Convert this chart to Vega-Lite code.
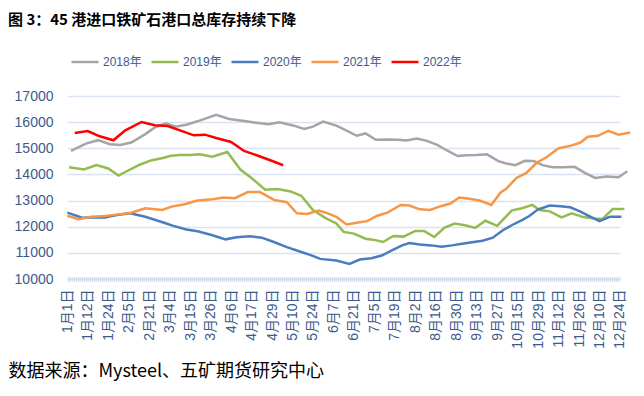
{
  "$schema": "https://vega.github.io/schema/vega-lite/v6.json",
  "autosize": {"type": "none"},
  "width": 569,
  "height": 183,
  "padding": {"left": 63, "top": 96, "right": 12, "bottom": 117},
  "background": "white",
  "config": {"view": {"stroke": null}},
  "title": {
    "text": "图 3：45 港进口铁矿石港口总库存持续下降",
    "anchor": "start",
    "frame": "group",
    "font": "Noto Sans CJK SC",
    "fontSize": 15,
    "fontWeight": "bold",
    "color": "#000000",
    "dx": -55,
    "dy": 4,
    "offset": 23
  },
  "data": {
    "values": [
      {"year": "2018年", "day": 3, "value": 14897},
      {"year": "2018年", "day": 11, "value": 15181},
      {"year": "2018年", "day": 18, "value": 15310},
      {"year": "2018年", "day": 25, "value": 15155},
      {"year": "2018年", "day": 31, "value": 15129},
      {"year": "2018年", "day": 38, "value": 15220},
      {"year": "2018年", "day": 49, "value": 15542},
      {"year": "2018年", "day": 55, "value": 15800},
      {"year": "2018年", "day": 61, "value": 15955},
      {"year": "2018年", "day": 66, "value": 15826},
      {"year": "2018年", "day": 72, "value": 15903},
      {"year": "2018年", "day": 79, "value": 16058},
      {"year": "2018年", "day": 88, "value": 16278},
      {"year": "2018年", "day": 95, "value": 16123},
      {"year": "2018年", "day": 104, "value": 16032},
      {"year": "2018年", "day": 112, "value": 15955},
      {"year": "2018年", "day": 117, "value": 15916},
      {"year": "2018年", "day": 123, "value": 15994},
      {"year": "2018年", "day": 131, "value": 15865},
      {"year": "2018年", "day": 138, "value": 15736},
      {"year": "2018年", "day": 144, "value": 15826},
      {"year": "2018年", "day": 151, "value": 16020},
      {"year": "2018年", "day": 160, "value": 15865},
      {"year": "2018年", "day": 167, "value": 15671},
      {"year": "2018年", "day": 174, "value": 15478},
      {"year": "2018年", "day": 180, "value": 15568},
      {"year": "2018年", "day": 187, "value": 15323},
      {"year": "2018年", "day": 194, "value": 15336},
      {"year": "2018年", "day": 202, "value": 15323},
      {"year": "2018年", "day": 208, "value": 15297},
      {"year": "2018年", "day": 215, "value": 15374},
      {"year": "2018年", "day": 222, "value": 15284},
      {"year": "2018年", "day": 229, "value": 15129},
      {"year": "2018年", "day": 235, "value": 14936},
      {"year": "2018年", "day": 243, "value": 14704},
      {"year": "2018年", "day": 249, "value": 14730},
      {"year": "2018年", "day": 256, "value": 14742},
      {"year": "2018年", "day": 263, "value": 14768},
      {"year": "2018年", "day": 271, "value": 14510},
      {"year": "2018年", "day": 278, "value": 14420},
      {"year": "2018年", "day": 286, "value": 14355},
      {"year": "2018年", "day": 293, "value": 14523},
      {"year": "2018年", "day": 299, "value": 14510},
      {"year": "2018年", "day": 305, "value": 14355},
      {"year": "2018年", "day": 312, "value": 14278},
      {"year": "2018年", "day": 319, "value": 14278},
      {"year": "2018年", "day": 327, "value": 14291},
      {"year": "2018年", "day": 334, "value": 14059},
      {"year": "2018年", "day": 341, "value": 13865},
      {"year": "2018年", "day": 349, "value": 13917},
      {"year": "2018年", "day": 357, "value": 13891},
      {"year": "2018年", "day": 363, "value": 14123},

      {"year": "2019年", "day": 2, "value": 14278},
      {"year": "2019年", "day": 10, "value": 14188},
      {"year": "2019年", "day": 17, "value": 14355},
      {"year": "2019年", "day": 24, "value": 14226},
      {"year": "2019年", "day": 30, "value": 13956},
      {"year": "2019年", "day": 37, "value": 14188},
      {"year": "2019年", "day": 45, "value": 14381},
      {"year": "2019年", "day": 53, "value": 14536},
      {"year": "2019年", "day": 60, "value": 14639},
      {"year": "2019年", "day": 63, "value": 14704},
      {"year": "2019年", "day": 68, "value": 14742},
      {"year": "2019年", "day": 74, "value": 14742},
      {"year": "2019年", "day": 79, "value": 14768},
      {"year": "2019年", "day": 86, "value": 14678},
      {"year": "2019年", "day": 94, "value": 14859},
      {"year": "2019年", "day": 101, "value": 14188},
      {"year": "2019年", "day": 107, "value": 13865},
      {"year": "2019年", "day": 115, "value": 13414},
      {"year": "2019年", "day": 122, "value": 13440},
      {"year": "2019年", "day": 129, "value": 13349},
      {"year": "2019年", "day": 136, "value": 13182},
      {"year": "2019年", "day": 144, "value": 12640},
      {"year": "2019年", "day": 153, "value": 12317},
      {"year": "2019年", "day": 160, "value": 12124},
      {"year": "2019年", "day": 165, "value": 11801},
      {"year": "2019年", "day": 172, "value": 11737},
      {"year": "2019年", "day": 180, "value": 11543},
      {"year": "2019年", "day": 185, "value": 11505},
      {"year": "2019年", "day": 192, "value": 11414},
      {"year": "2019年", "day": 199, "value": 11646},
      {"year": "2019年", "day": 206, "value": 11621},
      {"year": "2019年", "day": 214, "value": 11840},
      {"year": "2019年", "day": 220, "value": 11840},
      {"year": "2019年", "day": 227, "value": 11608},
      {"year": "2019年", "day": 234, "value": 11969},
      {"year": "2019年", "day": 241, "value": 12124},
      {"year": "2019年", "day": 248, "value": 12059},
      {"year": "2019年", "day": 255, "value": 11956},
      {"year": "2019年", "day": 262, "value": 12227},
      {"year": "2019年", "day": 270, "value": 12033},
      {"year": "2019年", "day": 283, "value": 12627},
      {"year": "2019年", "day": 291, "value": 12704},
      {"year": "2019年", "day": 298, "value": 12833},
      {"year": "2019年", "day": 303, "value": 12640},
      {"year": "2019年", "day": 310, "value": 12588},
      {"year": "2019年", "day": 318, "value": 12356},
      {"year": "2019年", "day": 325, "value": 12511},
      {"year": "2019年", "day": 333, "value": 12369},
      {"year": "2019年", "day": 340, "value": 12317},
      {"year": "2019年", "day": 346, "value": 12292},
      {"year": "2019年", "day": 353, "value": 12678},
      {"year": "2019年", "day": 361, "value": 12678},

      {"year": "2020年", "day": 1, "value": 12537},
      {"year": "2020年", "day": 9, "value": 12343},
      {"year": "2020年", "day": 15, "value": 12356},
      {"year": "2020年", "day": 22, "value": 12356},
      {"year": "2020年", "day": 29, "value": 12447},
      {"year": "2020年", "day": 37, "value": 12511},
      {"year": "2020年", "day": 49, "value": 12382},
      {"year": "2020年", "day": 60, "value": 12150},
      {"year": "2020年", "day": 65, "value": 12033},
      {"year": "2020年", "day": 72, "value": 11892},
      {"year": "2020年", "day": 78, "value": 11827},
      {"year": "2020年", "day": 86, "value": 11672},
      {"year": "2020年", "day": 93, "value": 11517},
      {"year": "2020年", "day": 99, "value": 11595},
      {"year": "2020年", "day": 106, "value": 11634},
      {"year": "2020年", "day": 113, "value": 11582},
      {"year": "2020年", "day": 120, "value": 11414},
      {"year": "2020年", "day": 127, "value": 11221},
      {"year": "2020年", "day": 135, "value": 11053},
      {"year": "2020年", "day": 142, "value": 10924},
      {"year": "2020年", "day": 149, "value": 10769},
      {"year": "2020年", "day": 160, "value": 10705},
      {"year": "2020年", "day": 169, "value": 10576},
      {"year": "2020年", "day": 176, "value": 10744},
      {"year": "2020年", "day": 184, "value": 10795},
      {"year": "2020年", "day": 191, "value": 10898},
      {"year": "2020年", "day": 198, "value": 11092},
      {"year": "2020年", "day": 205, "value": 11286},
      {"year": "2020年", "day": 210, "value": 11376},
      {"year": "2020年", "day": 217, "value": 11324},
      {"year": "2020年", "day": 225, "value": 11286},
      {"year": "2020年", "day": 232, "value": 11234},
      {"year": "2020年", "day": 239, "value": 11286},
      {"year": "2020年", "day": 246, "value": 11350},
      {"year": "2020年", "day": 254, "value": 11414},
      {"year": "2020年", "day": 260, "value": 11466},
      {"year": "2020年", "day": 267, "value": 11582},
      {"year": "2020年", "day": 275, "value": 11866},
      {"year": "2020年", "day": 284, "value": 12085},
      {"year": "2020年", "day": 291, "value": 12253},
      {"year": "2020年", "day": 296, "value": 12408},
      {"year": "2020年", "day": 302, "value": 12666},
      {"year": "2020年", "day": 310, "value": 12808},
      {"year": "2020年", "day": 317, "value": 12782},
      {"year": "2020年", "day": 324, "value": 12743},
      {"year": "2020年", "day": 331, "value": 12575},
      {"year": "2020年", "day": 337, "value": 12408},
      {"year": "2020年", "day": 344, "value": 12214},
      {"year": "2020年", "day": 351, "value": 12382},
      {"year": "2020年", "day": 359, "value": 12382},

      {"year": "2021年", "day": 1, "value": 12420},
      {"year": "2021年", "day": 7, "value": 12291},
      {"year": "2021年", "day": 14, "value": 12382},
      {"year": "2021年", "day": 22, "value": 12408},
      {"year": "2021年", "day": 30, "value": 12472},
      {"year": "2021年", "day": 38, "value": 12537},
      {"year": "2021年", "day": 49, "value": 12704},
      {"year": "2021年", "day": 59, "value": 12640},
      {"year": "2021年", "day": 64, "value": 12769},
      {"year": "2021年", "day": 71, "value": 12859},
      {"year": "2021年", "day": 78, "value": 13001},
      {"year": "2021年", "day": 86, "value": 13053},
      {"year": "2021年", "day": 92, "value": 13117},
      {"year": "2021年", "day": 98, "value": 13091},
      {"year": "2021年", "day": 105, "value": 13324},
      {"year": "2021年", "day": 112, "value": 13324},
      {"year": "2021年", "day": 120, "value": 13027},
      {"year": "2021年", "day": 127, "value": 12936},
      {"year": "2021年", "day": 133, "value": 12511},
      {"year": "2021年", "day": 140, "value": 12485},
      {"year": "2021年", "day": 148, "value": 12614},
      {"year": "2021年", "day": 153, "value": 12537},
      {"year": "2021年", "day": 160, "value": 12382},
      {"year": "2021年", "day": 167, "value": 12085},
      {"year": "2021年", "day": 175, "value": 12162},
      {"year": "2021年", "day": 181, "value": 12214},
      {"year": "2021年", "day": 188, "value": 12420},
      {"year": "2021年", "day": 195, "value": 12537},
      {"year": "2021年", "day": 204, "value": 12833},
      {"year": "2021年", "day": 210, "value": 12808},
      {"year": "2021年", "day": 217, "value": 12666},
      {"year": "2021年", "day": 224, "value": 12640},
      {"year": "2021年", "day": 232, "value": 12795},
      {"year": "2021年", "day": 238, "value": 12885},
      {"year": "2021年", "day": 244, "value": 13117},
      {"year": "2021年", "day": 251, "value": 13066},
      {"year": "2021年", "day": 258, "value": 13001},
      {"year": "2021年", "day": 266, "value": 12833},
      {"year": "2021年", "day": 273, "value": 13311},
      {"year": "2021年", "day": 278, "value": 13453},
      {"year": "2021年", "day": 287, "value": 13865},
      {"year": "2021年", "day": 294, "value": 14059},
      {"year": "2021年", "day": 301, "value": 14446},
      {"year": "2021年", "day": 308, "value": 14665},
      {"year": "2021年", "day": 316, "value": 15001},
      {"year": "2021年", "day": 324, "value": 15091},
      {"year": "2021年", "day": 331, "value": 15220},
      {"year": "2021年", "day": 336, "value": 15439},
      {"year": "2021年", "day": 343, "value": 15478},
      {"year": "2021年", "day": 350, "value": 15671},
      {"year": "2021年", "day": 357, "value": 15517},
      {"year": "2021年", "day": 365, "value": 15607},

      {"year": "2022年", "day": 5, "value": 15584},
      {"year": "2022年", "day": 12, "value": 15661},
      {"year": "2022年", "day": 19, "value": 15458},
      {"year": "2022年", "day": 27, "value": 15306},
      {"year": "2022年", "day": 34, "value": 15687},
      {"year": "2022年", "day": 46, "value": 16005},
      {"year": "2022年", "day": 55, "value": 15878},
      {"year": "2022年", "day": 62, "value": 15852},
      {"year": "2022年", "day": 67, "value": 15726},
      {"year": "2022年", "day": 76, "value": 15496},
      {"year": "2022年", "day": 82, "value": 15522},
      {"year": "2022年", "day": 88, "value": 15394},
      {"year": "2022年", "day": 96, "value": 15242},
      {"year": "2022年", "day": 103, "value": 14898},
      {"year": "2022年", "day": 110, "value": 14733},
      {"year": "2022年", "day": 118, "value": 14542},
      {"year": "2022年", "day": 125, "value": 14351}
    ]
  },
  "mark": {"type": "line", "strokeWidth": 2.5, "interpolate": "linear"},
  "encoding": {
    "x": {
      "field": "day",
      "type": "quantitative",
      "scale": {
        "type": "linear",
        "nice": false,
        "zero": false,
        "domain": [1, 12, 24, 36, 52, 63, 74, 85, 96, 107, 119, 130, 144, 158, 172, 186, 200, 214, 228, 242, 256, 270, 288, 302, 316, 330, 344, 358],
        "range": [4.3, 24.77, 45.24, 65.71, 86.18, 106.65, 127.12, 147.59, 168.06, 188.53, 209.0, 229.47, 249.94, 270.41, 290.88, 311.35, 331.82, 352.29, 372.76, 393.23, 413.7, 434.17, 454.64, 475.11, 495.58, 516.05, 536.52, 556.99]
      },
      "axis": {
        "values": [1, 12, 24, 36, 52, 63, 74, 85, 96, 107, 119, 130, 144, 158, 172, 186, 200, 214, 228, 242, 256, 270, 288, 302, 316, 330, 344, 358],
        "labelExpr": "timeFormat(datetime(1900, 0, datum.value), '%-m月%-d日')",
        "labelAngle": -90,
        "labelFont": "Liberation Sans, Noto Sans CJK SC",
        "labelFontSize": 14,
        "labelColor": "#3c5a8c",
        "labelPadding": 10,
        "labelOverlap": false,
        "labelFlush": false,
        "labelBound": false,
        "ticks": false,
        "grid": false,
        "domain": true,
        "domainColor": "#c8d6ee",
        "domainWidth": 5,
        "domainDash": [1, 1],
        "title": "数据来源：Mysteel、五矿期货研究中心",
        "titleFont": "Noto Sans CJK SC",
        "titleFontSize": 18,
        "titleFontWeight": "normal",
        "titleColor": "#000000",
        "titleAnchor": "start",
        "titleAlign": "left",
        "titleAngle": 0,
        "titleBaseline": "alphabetic",
        "titleX": -55,
        "titleY": 97
      }
    },
    "y": {
      "field": "value",
      "type": "quantitative",
      "scale": {"domain": [10000, 17000], "nice": false, "zero": false},
      "axis": {
        "values": [10000, 11000, 12000, 13000, 14000, 15000, 16000, 17000],
        "format": "d",
        "title": null,
        "domain": false,
        "ticks": false,
        "labelFont": "Liberation Sans",
        "labelFontSize": 14,
        "labelColor": "#3c5a8c",
        "labelPadding": 10,
        "gridColor": "#d9e3f3",
        "gridWidth": 1.5
      }
    },
    "color": {
      "field": "year",
      "type": "nominal",
      "scale": {
        "domain": ["2018年", "2019年", "2020年", "2021年", "2022年"],
        "range": ["#a5a5a5", "#92bb50", "#4a7cc0", "#f79646", "#ff0000"]
      },
      "legend": {
        "title": null,
        "orient": "none",
        "legendX": 7,
        "legendY": -49,
        "direction": "horizontal",
        "columns": 5,
        "symbolType": "stroke",
        "symbolSize": 729,
        "symbolStrokeWidth": 2.5,
        "labelFont": "Liberation Sans, Noto Sans CJK SC",
        "labelFontSize": 12,
        "labelColor": "#3c5a8c",
        "labelOffset": 3,
        "columnPadding": 4
      }
    }
  }
}
